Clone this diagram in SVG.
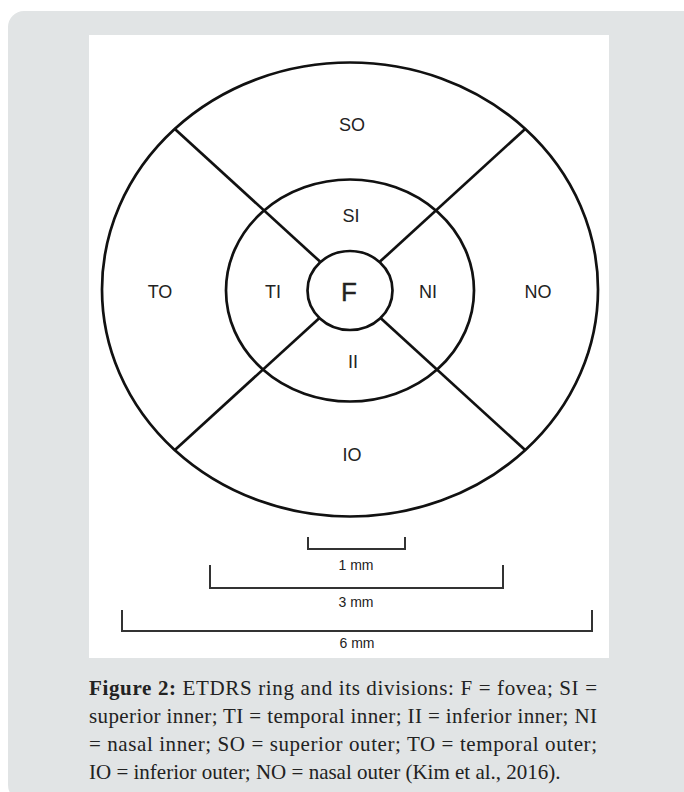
<svg xmlns="http://www.w3.org/2000/svg" width="684" height="792" viewBox="0 0 684 792">
<style>
.ring{fill:none;stroke:#111;stroke-width:2.7}
.lbl{font-family:"Liberation Sans",Arial,sans-serif;font-size:18px;fill:#222;text-anchor:middle;dominant-baseline:central}
.bar{fill:none;stroke:#333;stroke-width:2}
.mm{font-family:"Liberation Sans",Arial,sans-serif;font-size:14px;fill:#222;text-anchor:middle}
.cap{font-family:"Liberation Serif","Times New Roman",serif;font-size:21px;fill:#222}
</style>
<rect x="8" y="11" width="690" height="790" rx="16" fill="#e1e4e5"/>
<rect x="89" y="35" width="520" height="623" fill="#ffffff"/>
<g id="connectors" class="ring">
<line x1="320" y1="261.6" x2="174.6" y2="128.7"/>
<line x1="380" y1="261.6" x2="525.4" y2="128.7"/>
<line x1="320" y1="317.4" x2="174.6" y2="450.3"/>
<line x1="380" y1="317.4" x2="525.4" y2="450.3"/>
</g>
<g id="outer"><ellipse class="ring" cx="350" cy="289.5" rx="248" ry="227"/></g>
<g id="middle"><ellipse class="ring" cx="350" cy="290.5" rx="124" ry="111"/></g>
<g id="F"><ellipse class="ring" cx="350" cy="290.5" rx="42.5" ry="39.5"/><text class="lbl" x="349" y="292" style="font-size:26px;stroke:#222;stroke-width:0.4">F</text></g>
<g id="SO"><text class="lbl" x="352" y="125">SO</text></g>
<g id="SI"><text class="lbl" x="351" y="216">SI</text></g>
<g id="TI"><text class="lbl" x="273" y="292">TI</text></g>
<g id="NI"><text class="lbl" x="428" y="292">NI</text></g>
<g id="II"><text class="lbl" x="353" y="362">II</text></g>
<g id="IO"><text class="lbl" x="352" y="455">IO</text></g>
<g id="TO"><text class="lbl" x="160" y="292">TO</text></g>
<g id="NO"><text class="lbl" x="538" y="292">NO</text></g>
<g id="scale1"><path class="bar" d="M308,537 V549 H405 V537"/><text class="mm" x="356" y="570">1 mm</text></g>
<g id="scale3"><path class="bar" d="M210,565 V588 H503 V565"/><text class="mm" x="356" y="607">3 mm</text></g>
<g id="scale6"><path class="bar" d="M122,610 V631 H592 V610"/><text class="mm" x="357" y="648">6 mm</text></g>
<g id="caption" class="cap">
<text x="89" y="695" textLength="508" lengthAdjust="spacing"><tspan font-weight="bold">Figure 2:</tspan> ETDRS ring and its divisions: F = fovea; SI =</text>
<text x="89" y="723" textLength="508" lengthAdjust="spacing">superior inner; TI = temporal inner; II = inferior inner; NI</text>
<text x="89" y="751" textLength="508" lengthAdjust="spacing">= nasal inner; SO = superior outer; TO = temporal outer;</text>
<text x="89" y="779">IO = inferior outer; NO = nasal outer (Kim et al., 2016).</text>
</g>
</svg>
